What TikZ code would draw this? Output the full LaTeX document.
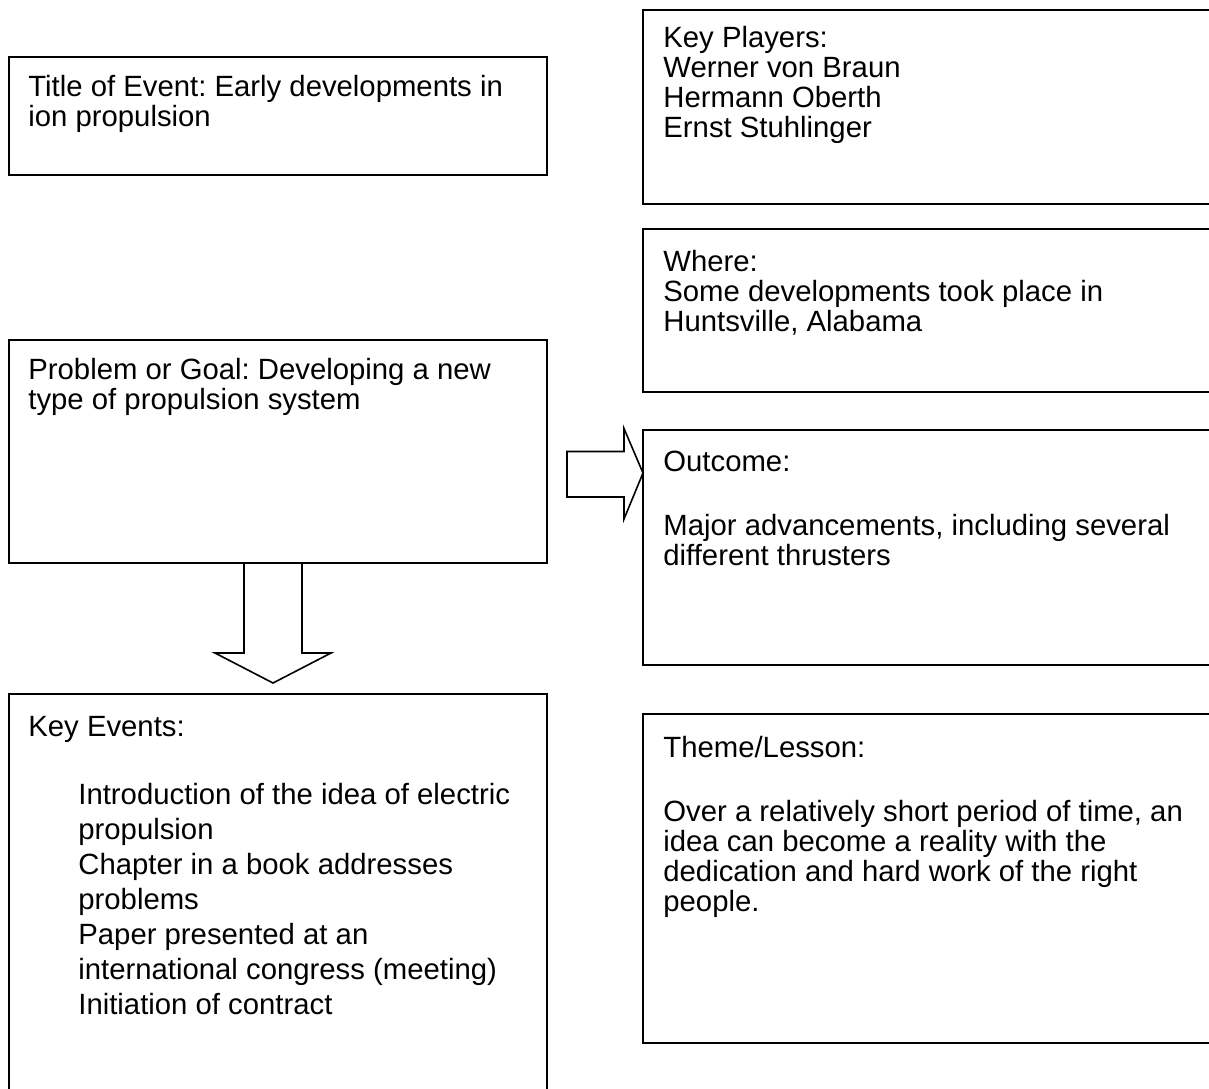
\documentclass[tikz,border=0pt]{standalone}
\usepackage{fontspec}
\setmainfont{Liberation Sans}
\usetikzlibrary{positioning, calc}
\frenchspacing

\tikzset{
    box/.style={draw, line width=1pt, anchor=north west, minimum width=#1, inner sep=0pt, outer sep=0pt},
    box/.default=269pt,
    txt/.style={anchor=north west, inner sep=0pt, align=left, font=\fontsize{14.65}{15}\selectfont},
    items/.style={txt, font=\fontsize{14.65}{17.5}\selectfont},
    hollow/.style={draw, line width=0.8pt, line join=miter}
}

\begin{document}
\begin{tikzpicture}[x=0.5pt, y=-0.5pt]
    \useasboundingbox (0,0) rectangle (1209,1088);

    % left column
    \node[box, minimum height=59pt] (title) at (9,57) {};
    \node[box, minimum height=111.5pt] (problem) at (9,340) {};
    \node[box, minimum height=200.5pt] (events) at (9,694) {};

    % right column, cut at the page edge
    \node[box=286pt, minimum height=97pt] (players) at (643,10) {};
    \node[box=286pt, minimum height=81.5pt] (where) at (643,229) {};
    \node[box=286pt, minimum height=117.5pt] (outcome) at (643,430) {};
    \node[box=286pt, minimum height=164.5pt] (theme) at (643,714) {};

    \node[txt] (titletxt) at ($(title.north west)+(19,18)$)
        {Title of Event: Early developments in\\ion propulsion};
    \node[txt] (problemtxt) at ($(problem.north west)+(19,18)$)
        {Problem or Goal: Developing a new\\type of propulsion system};
    \node[txt] (eventstxt) at ($(events.north west)+(19,22)$) {Key Events:};
    \node[items] (itemstxt) at ($(events.north west)+(69,89)$)
        {Introduction of the idea of electric\\propulsion\\Chapter in a book addresses\\problems\\Paper presented at an\\international congress (meeting)\\Initiation of contract};

    \node[txt] (playerstxt) at ($(players.north west)+(20,16)$)
        {Key Players:\\Werner von Braun\\Hermann Oberth\\Ernst Stuhlinger};
    \node[txt] (wheretxt) at ($(where.north west)+(20,21)$)
        {Where:\\Some developments took place in\\Huntsville, Alabama};
    \node[txt] (outcometxt) at ($(outcome.north west)+(20,21)$)
        {Outcome:\\[17pt]Major advancements, including several\\different thrusters};
    \node[txt] (themetxt) at ($(theme.north west)+(20,22)$)
        {Theme/Lesson:\\[17pt]Over a relatively short period of time, an\\idea can become a reality with the\\dedication and hard work of the right\\people.};

    % block arrows
    \draw[hollow] ($(problem.south)+(-34,0)$) -- ++(0,90) -- ++(-29,0)
        -- ($(events.north)+(-5,-11)$) -- ++(58,-30) -- ++(-29,0) -- ++(0,-90) -- cycle;
    \draw[hollow] ($(problem.east)+(20,0)$) -- ++(57,0) -- ++(0,-23)
        -- ($(outcome.north west)+(0,43)$) -- ++(-19,46) -- ++(0,-22) -- ++(-57,0) -- cycle;
\end{tikzpicture}
\end{document}
